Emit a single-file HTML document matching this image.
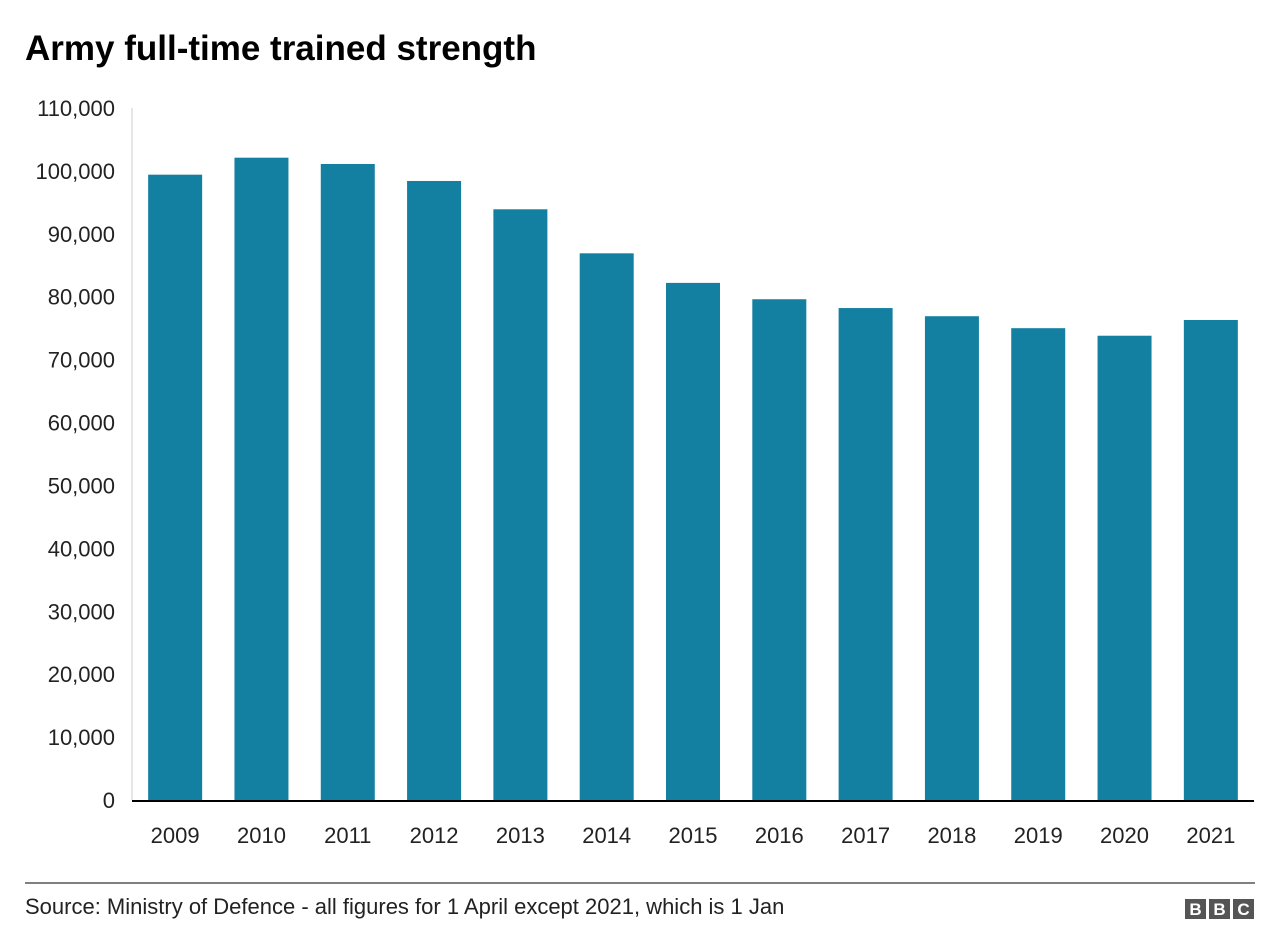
<!DOCTYPE html>
<html><head><meta charset="utf-8"><style>
body{margin:0;background:#fff;font-family:"Liberation Sans",Arial,sans-serif;}
svg{display:block}
</style></head><body>
<svg width="1280" height="952">
<text x="25" y="60" font-size="35" font-weight="bold" fill="#000">Army full-time trained strength</text>
<g id="yaxis"></g>
<g id="bars"></g>
<g id="xaxis"></g>
<line x1="25" y1="883" x2="1255" y2="883" stroke="#000" stroke-width="1"/>
<text x="25" y="914" font-size="22" fill="#222">Source: Ministry of Defence - all figures for 1 April except 2021, which is 1 Jan</text>
<g>
<rect x="1185" y="899" width="21" height="20" fill="#555"/><rect x="1209" y="899" width="21" height="20" fill="#555"/><rect x="1233" y="899" width="21" height="20" fill="#555"/>
<text x="1195.5" y="915" font-size="17" font-weight="bold" fill="#fff" text-anchor="middle">B</text>
<text x="1219.5" y="915" font-size="17" font-weight="bold" fill="#fff" text-anchor="middle">B</text>
<text x="1243.5" y="915" font-size="17" font-weight="bold" fill="#fff" text-anchor="middle">C</text>
</g>
</svg>
<script>
const categories=["2009","2010","2011","2012","2013","2014","2015","2016","2017","2018","2019","2020","2021"];
const values=[99400,102100,101100,98400,93900,86900,82200,79600,78200,76900,75000,73800,76300];
const yTicks=[0,10000,20000,30000,40000,50000,60000,70000,80000,90000,100000,110000];
const NS="http://www.w3.org/2000/svg";
const x0=132,x1=1254,y0=800,y1=108,yMax=110000;
const band=(x1-x0)/categories.length;
function y(v){return y0-(v/yMax)*(y0-y1);}
function xc(i){return x0+band*(i+0.5);}
function mk(t,a){const e=document.createElementNS(NS,t);for(const k in a)e.setAttribute(k,a[k]);return e;}
const ya=document.getElementById('yaxis'),bg=document.getElementById('bars'),xa=document.getElementById('xaxis');
ya.appendChild(mk('line',{x1:x0,y1:y1,x2:x0,y2:y0,stroke:'#ccc','stroke-width':1}));
yTicks.forEach(v=>{const t=mk('text',{x:115,y:y(v)+8,'font-size':22,'text-anchor':'end',fill:'#222'});t.textContent=v.toLocaleString('en-US');


ya.appendChild(t);});
const bw=54;
values.forEach((v,i)=>{const r=mk('rect',{x:xc(i)-bw/2,y:y(v),width:bw,height:y0-y(v),fill:'#1380A1'});


bg.appendChild(r);
const t=mk('text',{x:xc(i),y:843,'font-size':22,'text-anchor':'middle',fill:'#222'});t.textContent=categories[i];


xa.appendChild(t);});
xa.appendChild(mk('line',{x1:x0,y1:y0+1,x2:x1,y2:y0+1,stroke:'#000','stroke-width':2}));
</script>
</body></html>
